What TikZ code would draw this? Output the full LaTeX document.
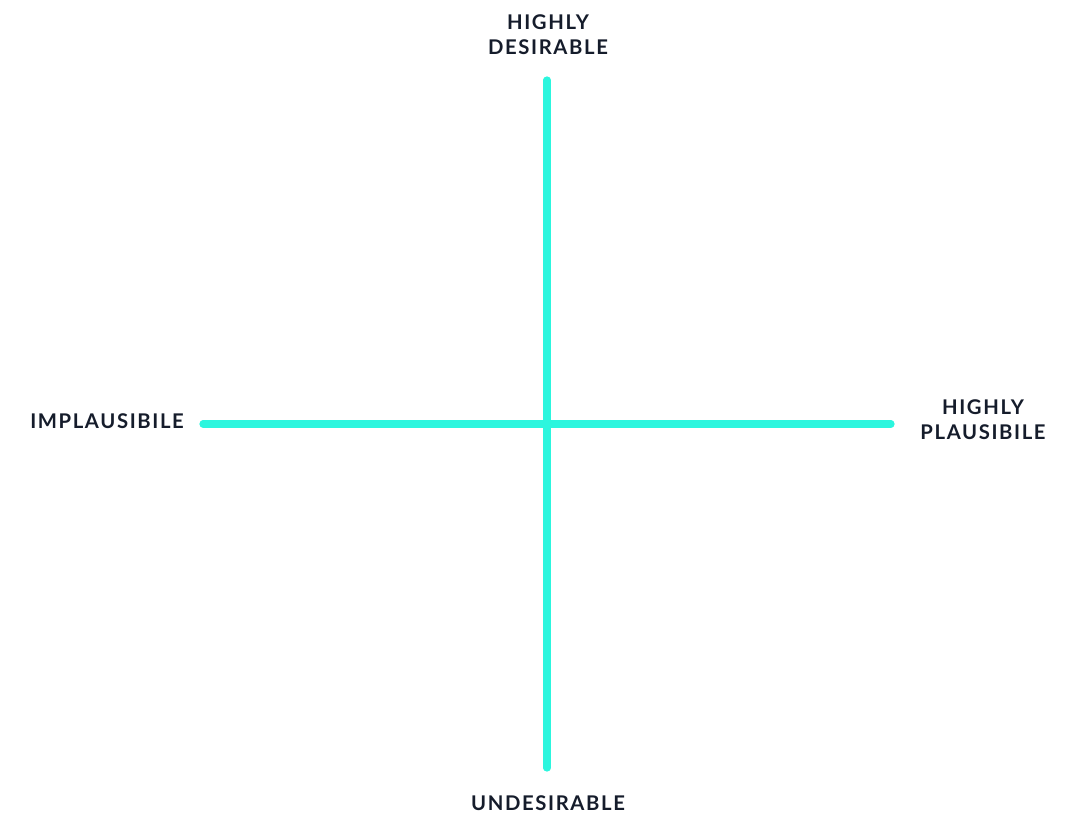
\documentclass[tikz,border=0pt]{standalone}
\usepackage{fontspec}
\setmainfont{Lato}[UprightFont=* Bold, LetterSpace=8]
\definecolor{axiscol}{HTML}{2CF6DE}
\definecolor{labcol}{HTML}{151C2B}
\begin{document}
\begin{tikzpicture}[x=0.75pt,y=-0.75pt,
  axisline/.style={draw=axiscol,line width=5.4pt,line cap=round},
  lab/.style={text=labcol,font=\fontsize{15.2}{18.5}\selectfont,align=center,inner sep=0pt}]
\useasboundingbox (0,0) rectangle (1076,814);
\coordinate (top) at (547,80);
\coordinate (bot) at (547,768);
\coordinate (lft) at (203,424);
\coordinate (rgt) at (891,424);
\draw[axisline] (top) -- (bot);
\draw[axisline] (lft) -- (rgt);
\node[lab] (ltop) at (548,35) {HIGHLY\\DESIRABLE};
\node[lab] (lbot) at (548,803) {UNDESIRABLE};
\node[lab] (llft) at (107,421) {IMPLAUSIBILE};
\node[lab] (lrgt) at (983,420) {HIGHLY\\PLAUSIBILE};
\end{tikzpicture}
\end{document}
